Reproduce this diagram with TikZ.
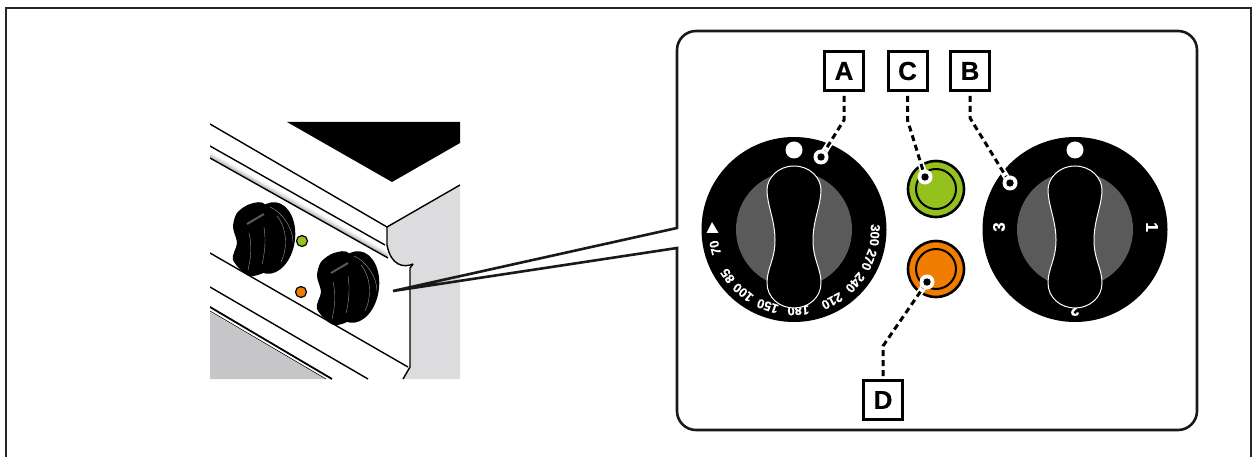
\documentclass[tikz,border=0pt]{standalone}
\usepackage{fontspec}
\setmainfont{Liberation Sans}[BoldFeatures={FakeBold=0.4}]
\usetikzlibrary{calc}
\definecolor{sidegray}{HTML}{DCDCDE}
\definecolor{dialgray}{HTML}{5A5A5A}
\definecolor{lampgreen}{HTML}{95C11F}
\definecolor{lamporange}{HTML}{F07D00}
\tikzset{
  labelbox/.style={draw, line width=3pt, fill=white, minimum size=39pt, inner sep=0pt, font=\fontsize{26}{26}\selectfont\bfseries},
  leader/.style={line width=3pt, dash pattern=on 6pt off 4pt},
  halo/.style={white, line width=6.5pt},
  dialtext/.style={text=white, inner sep=0pt, font=\fontsize{13}{14}\selectfont\bfseries},
  bigdigit/.style={dialtext, font=\fontsize{17}{17}\selectfont\bfseries},
  outline/.style={line width=1.4pt, line join=round},
  knobline/.style={white, opacity=0.6, line width=0.4pt},
  smallknob/.pic={
    \fill[rotate around={-8:(271,238)}] (271,238) ellipse (24 and 36);
    \fill plot[smooth cycle] coordinates {(237,213) (250,204) (266,205) (280,240) (272,267) (250,276) (233,260) (237,243) (233,227)};
    \draw[black!65, line width=2pt] (247,224)--(264,214);
    \draw[knobline] (249,233)..controls (252,245) and (251,258)..(248,270);
    \draw[knobline] (264,227)..controls (266,240) and (265,252)..(262,264);
    \draw[knobline] (277,216)..controls (287,228) and (288,248)..(281,262);
    \draw[knobline] (270,207)..controls (282,212) and (293,228)..(293,242);
  }
}
\begin{document}
\begin{tikzpicture}[x=1pt,y=-1pt]
  \useasboundingbox (0,0) rectangle (1253,457);
  \draw[line width=1.5pt, draw=black!85] (6,457)--(6,8)--(1251,8)--(1251,457);

  % stove
  \begin{scope}
    \clip (210,122) rectangle (460,379);
    \fill[sidegray] (387,227)--(460,185)--(460,379)--(403,379)--(410,367)--(410,268)--(413,264)
      ..controls (404,268) and (391,266)..(387,245)--cycle;
    \fill[sidegray!90!black] (210,312)--(325,379)--(210,379)--cycle;
    \fill (287,122)--(460,122)--(460,143)--(392,182)--cycle;
    \foreach \d/\c in {4/5,3/9,2/14,1/20,0/26}
      \draw[black!\c, line width=1.2pt] (210,157-\d)--(388,257-\d);
    \draw[outline] (210,124)--(387,227)--(460,185);
    \draw[outline] (210,146)--(385,245);
    \draw[outline] (210,158)--(388,258);
    \draw[outline] (387,227)--(387,245)..controls (391,266) and (404,268)..(413,264);
    \draw[outline] (413,264)--(410,268)--(410,367)--(403,379);
    \draw[outline] (210,253)--(408,367);
    \draw[outline] (210,287)--(368,379);
    \draw[line width=1.8pt] (210,307)--(332,379);
    \draw[line width=0.6pt] (210,311)--(326,379);
    \pic at (0,0) {smallknob};
    \pic at (84,49) {smallknob};
    \draw[line width=1.2pt, fill=lampgreen] (302,241) circle (5.5);
    \draw[line width=1.2pt, fill=lamporange] (301,292) circle (5.5);
  \end{scope}

  % panel
  \coordinate (tip) at (393,291);
  \coordinate (P1) at (677,228);
  \coordinate (P2) at (677,248);
  \draw[line width=2.6pt, draw=black!90, line join=miter] (tip)--(P2)--(677,300)
    [rounded corners=19pt] --(677,430)--(1197,430)--(1197,31)--(677,31)--(677,150)
    [rounded corners=0pt] --(P1)--(tip);

  % dials
  \foreach \x in {794,1075} {
    \fill (\x,229.5) circle (92.5);
    \fill[dialgray] (\x,229.5) circle (58);
    \fill[white] (\x,150) circle (8.5);
  }
  \foreach \a/\t in {-4/300,-22/270,-41/240,-62/210,-87/180,-109/150,-129/100,-145/85,-167/70}
    \node[dialtext, rotate=\a-90] at ($(794,229.5)+(\a:81 and -81)$) {\t};
  \fill[white] (706.5,233)--(718.5,233)--(712,222)--cycle;
  \node[bigdigit, rotate=90] at (999,227) {3};
  \node[bigdigit, rotate=-90] at (1152,227) {1};
  \node[bigdigit, rotate=180] at (1075,310) {2};
  \foreach \x in {794,1075} {
    \begin{scope}[shift={(\x,0)}]
      \draw[white, line width=1pt, fill=black] (0,166)
        ..controls (16,166) and (27,178)..(27,190)
        ..controls (27,205) and (19,220)..(19,240)
        ..controls (19,260) and (27,268)..(27,283)
        ..controls (27,298) and (14,308)..(0,308)
        ..controls (-14,308) and (-27,298)..(-27,283)
        ..controls (-27,268) and (-19,260)..(-19,240)
        ..controls (-19,220) and (-27,205)..(-27,190)
        ..controls (-27,178) and (-16,166)..(0,166)--cycle;
    \end{scope}
  }

  % lamps
  \draw[line width=2.6pt, fill=lampgreen] (936,189) circle (28);
  \draw[line width=2pt] (936,189) circle (20);
  \draw[line width=2.6pt, fill=lamporange] (936,269) circle (28);
  \draw[line width=2pt] (936,269) circle (20);

  % labels
  \node[labelbox] (A) at (844,71) {A};
  \node[labelbox] (C) at (907.5,71) {C};
  \node[labelbox] (B) at (970,71) {B};
  \node[labelbox] (D) at (883,400) {D};
  \coordinate (Aend) at (821,157);
  \coordinate (Cend) at (925,177);
  \coordinate (Bend) at (1010,183);
  \coordinate (Dend) at (927,282);
  \draw[halo] (A.south)++(0,28)--(Aend);
  \draw[halo] (C.south)++(0,28)--(Cend);
  \draw[halo] (B.south)++(0,26)--(Bend);
  \draw[halo] (D.north)++(0,-33)--(Dend);
  \draw[leader] (A.south)++(0,4)--++(0,24)--(Aend);
  \draw[leader] (C.south)++(0,4)--++(0,24)--(Cend);
  \draw[leader] (B.south)++(0,4)--++(0,22)--(Bend);
  \draw[leader] (D.north)++(0,-3)--++(0,-30)--(Dend);
  \foreach \p in {Aend,Cend,Bend,Dend} {
    \fill[white] (\p) circle (7.5);
    \fill (\p) circle (3.7);
  }
\end{tikzpicture}
\end{document}
